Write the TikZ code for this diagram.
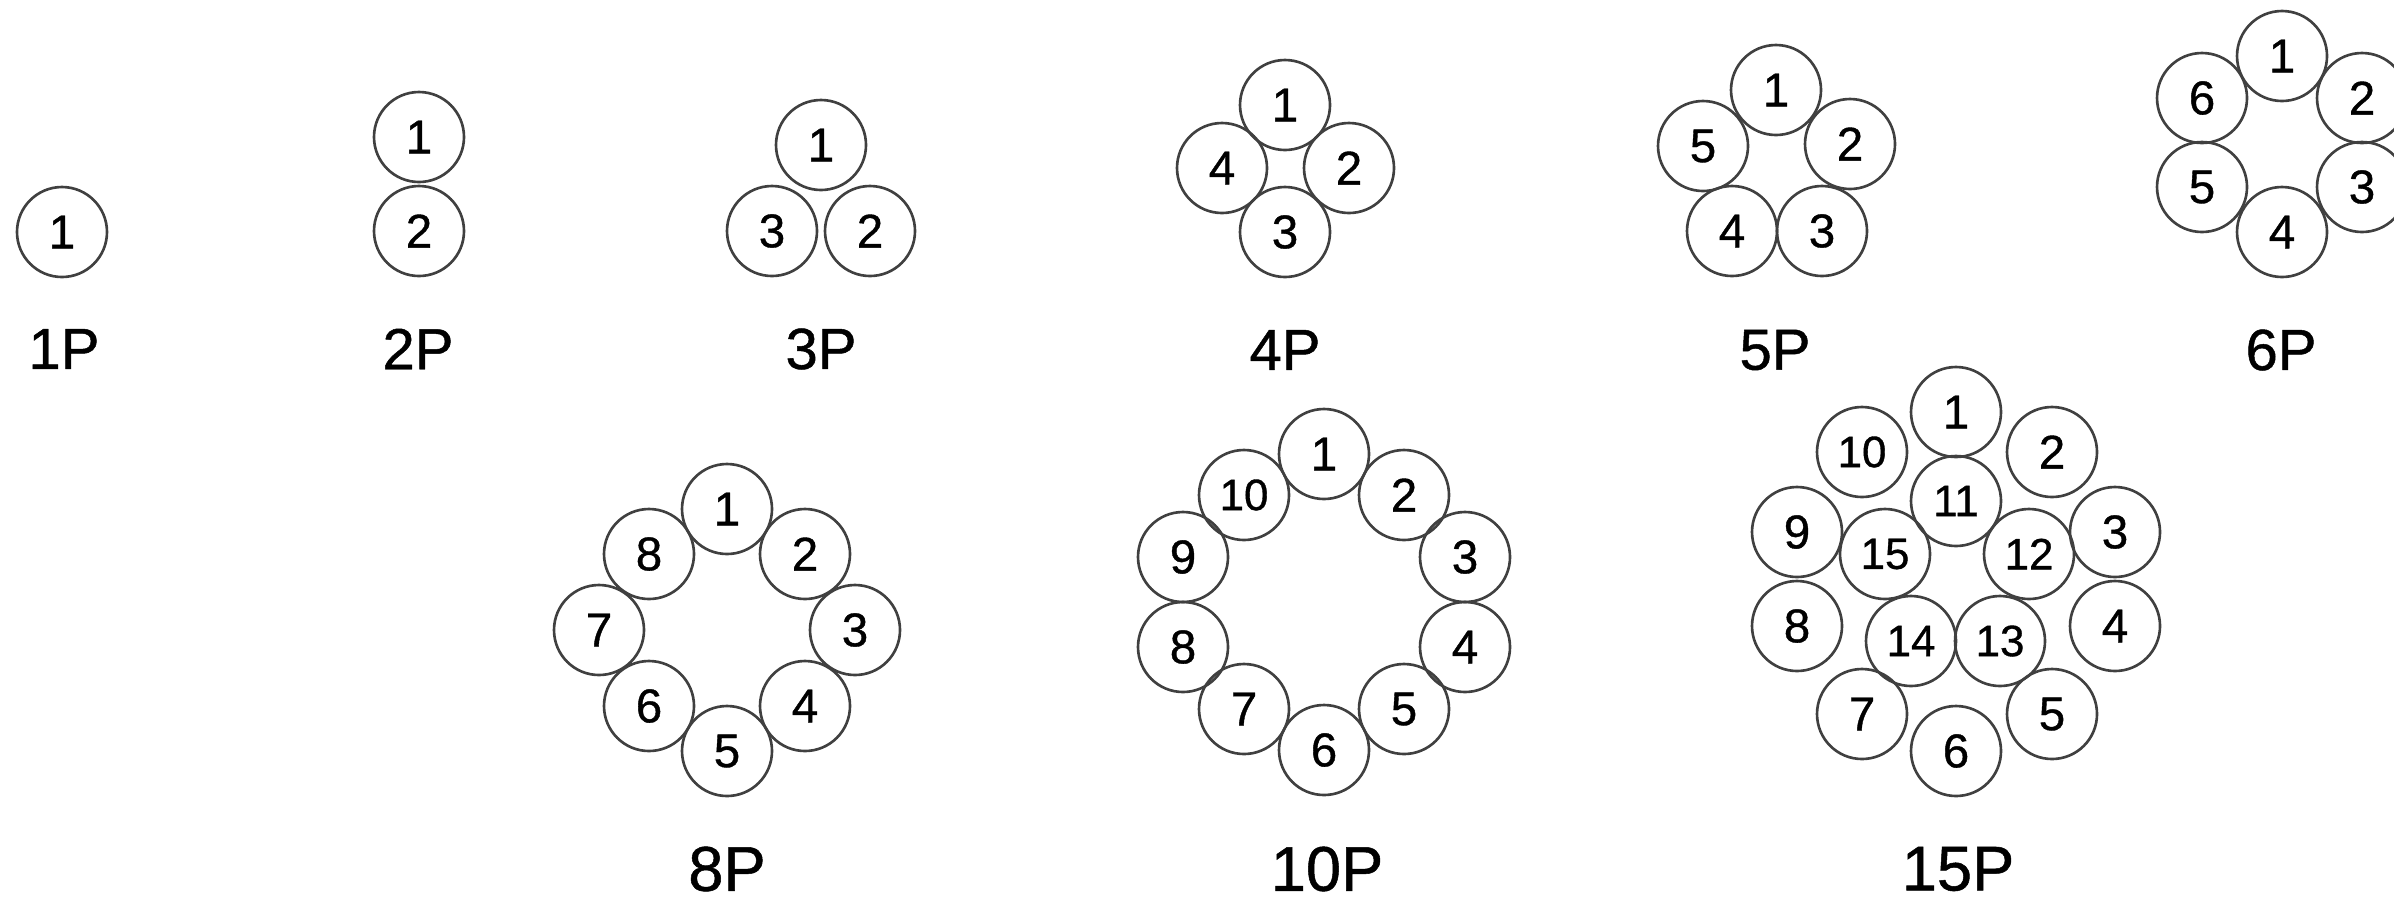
\documentclass[tikz,border=0pt]{standalone}
\usepackage{fontspec}
\setmainfont{Liberation Sans}[FakeBold=0.8]

\tikzset{
    pole/.style={
        draw=black!75,
        circle,
        line width=.75pt,
        inner sep=0pt,
        minimum size=9mm,
        font=\fontsize{13.5}{15}\selectfont
    },
    smallpole/.style={
        pole,
        font=\fontsize{12.5}{14}\selectfont
    },
    poletitle/.style={
        inner sep=0pt,
        font=\fontsize{16.5}{18}\selectfont
    },
    bigtitle/.style={
        poletitle,
        font=\fontsize{18}{20}\selectfont
    }
}

\begin{document}
\begin{tikzpicture}[x=0.1mm, y=-0.1mm]
    \useasboundingbox (0,0) rectangle (2394,902);
    \clip (0,0) rectangle (2394,902);

    % Obere Reihe: 1P bis 6P
    \path
        node[pole] at (  62,232) (a1) {1};
    \path
        node[pole] at ( 419,137) (b1) {1}
        node[pole] at ( 419,231) (b2) {2};
    \path
        node[pole] at ( 821,145) (c1) {1}
        node[pole] at ( 870,231) (c2) {2}
        node[pole] at ( 772,231) (c3) {3};
    \path
        node[pole] at (1285,105) (d1) {1}
        node[pole] at (1349,168) (d2) {2}
        node[pole] at (1285,232) (d3) {3}
        node[pole] at (1222,168) (d4) {4};
    \path
        node[pole] at (1776, 90) (f1) {1}
        node[pole] at (1850,144) (f2) {2}
        node[pole] at (1822,231) (f3) {3}
        node[pole] at (1732,231) (f4) {4}
        node[pole] at (1703,146) (f5) {5};
    \path
        node[pole] at (2282, 56) (g1) {1}
        node[pole] at (2362, 98) (g2) {2}
        node[pole] at (2362,187) (g3) {3}
        node[pole] at (2282,232) (g4) {4}
        node[pole] at (2202,187) (g5) {5}
        node[pole] at (2202, 98) (g6) {6};

    % Untere Reihe: 8P
    \path
        node[pole] at ( 727,509) (h1) {1}
        node[pole] at ( 805,554) (h2) {2}
        node[pole] at ( 855,630) (h3) {3}
        node[pole] at ( 805,706) (h4) {4}
        node[pole] at ( 727,751) (h5) {5}
        node[pole] at ( 649,706) (h6) {6}
        node[pole] at ( 599,630) (h7) {7}
        node[pole] at ( 649,554) (h8) {8};

    % 10P
    \path
        node[pole]      at (1324,454) (k1)  {1}
        node[pole]      at (1404,495) (k2)  {2}
        node[pole]      at (1465,557) (k3)  {3}
        node[pole]      at (1465,647) (k4)  {4}
        node[pole]      at (1404,709) (k5)  {5}
        node[pole]      at (1324,750) (k6)  {6}
        node[pole]      at (1244,709) (k7)  {7}
        node[pole]      at (1183,647) (k8)  {8}
        node[pole]      at (1183,557) (k9)  {9}
        node[smallpole] at (1244,495) (k10) {10};

    % 15P: aeusserer Ring und innerer Ring
    \path
        node[pole]      at (1956,412) (m1)  {1}
        node[pole]      at (2052,452) (m2)  {2}
        node[pole]      at (2115,532) (m3)  {3}
        node[pole]      at (2115,626) (m4)  {4}
        node[pole]      at (2052,714) (m5)  {5}
        node[pole]      at (1956,751) (m6)  {6}
        node[pole]      at (1862,714) (m7)  {7}
        node[pole]      at (1797,626) (m8)  {8}
        node[pole]      at (1797,532) (m9)  {9}
        node[smallpole] at (1862,452) (m10) {10};
    \path
        node[smallpole] at (1956,501) (m11) {11}
        node[smallpole] at (2029,554) (m12) {12}
        node[smallpole] at (2000,641) (m13) {13}
        node[smallpole] at (1911,641) (m14) {14}
        node[smallpole] at (1885,554) (m15) {15};

    % Beschriftungen
    \path
        node[poletitle] at (  64,349) (t1)  {1P}
        node[poletitle] at ( 418,349) (t2)  {2P}
        node[poletitle] at ( 821,349) (t3)  {3P}
        node[poletitle] at (1285,350) (t4)  {4P}
        node[poletitle] at (1775,350) (t5)  {5P}
        node[poletitle] at (2281,350) (t6)  {6P}
        node[bigtitle]  at ( 727,869) (t8)  {8P}
        node[bigtitle]  at (1327,869) (t10) {10P}
        node[bigtitle]  at (1958,869) (t15) {15P};
\end{tikzpicture}
\end{document}
